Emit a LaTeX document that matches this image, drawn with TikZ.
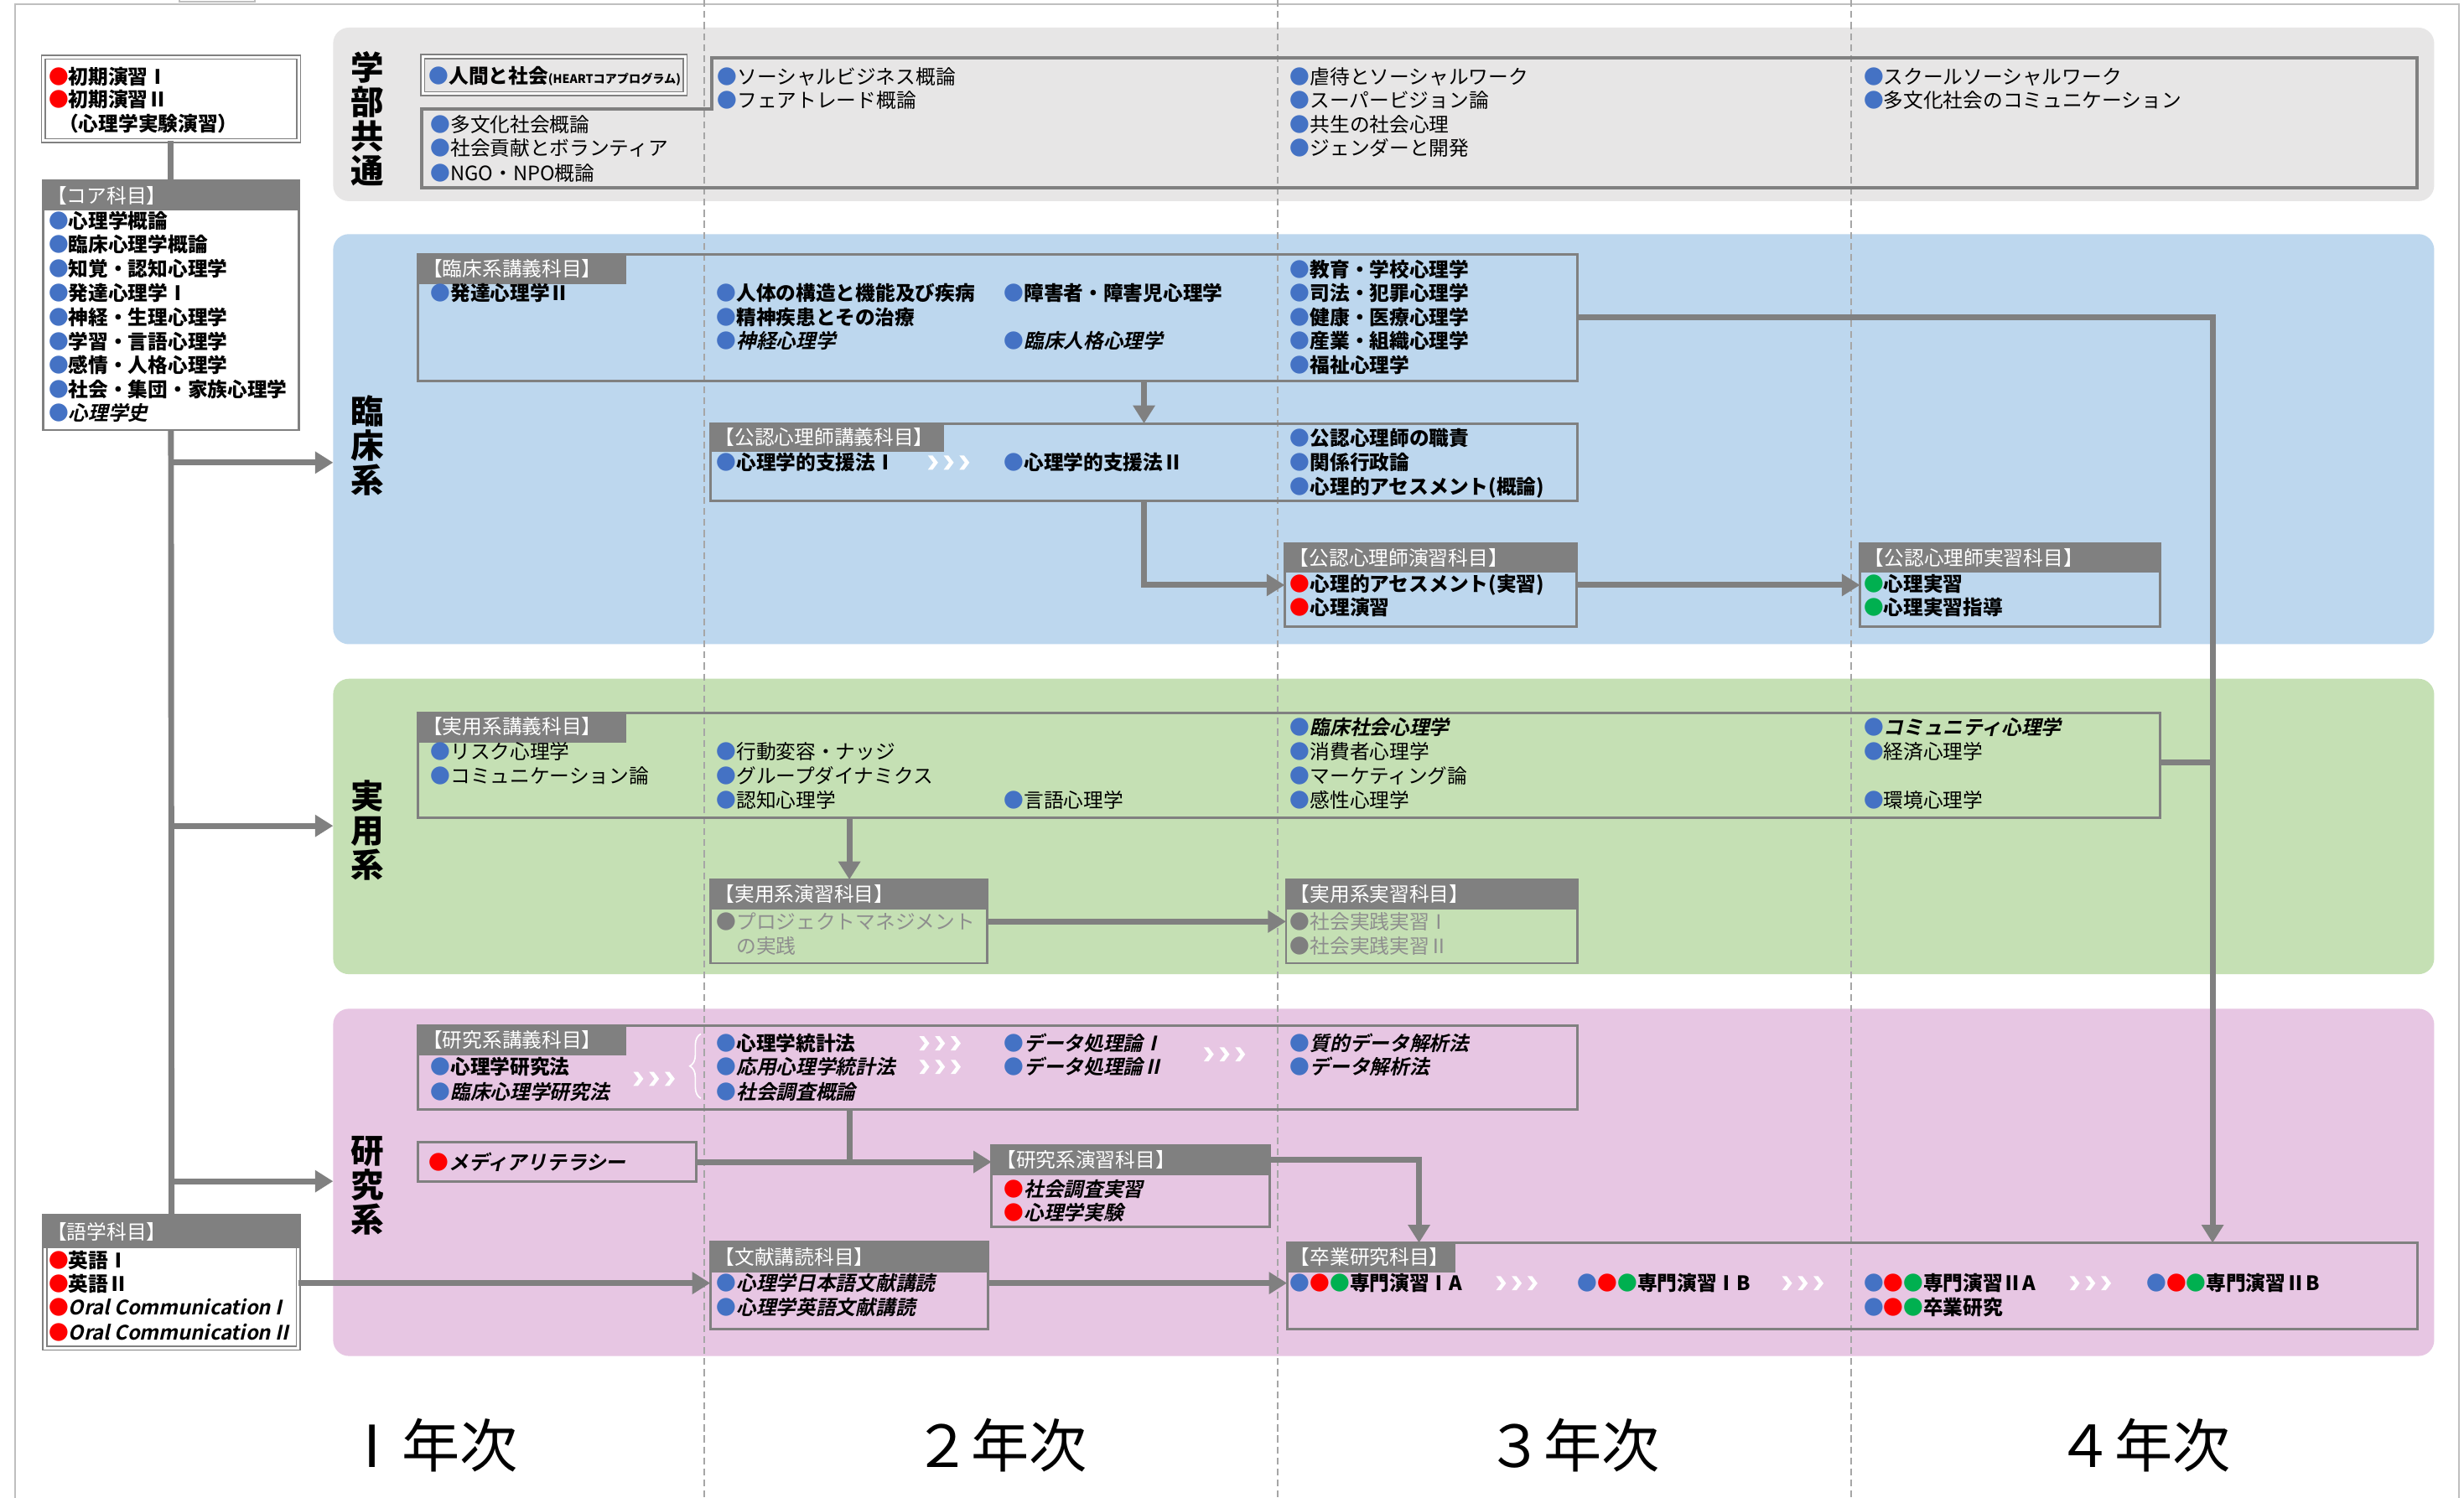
\documentclass[tikz,border=0pt]{standalone}
\usepackage{fontspec}
\setmainfont{Noto Sans CJK JP}[ItalicFont={Noto Sans CJK JP}, ItalicFeatures={FakeSlant=0.22}, BoldItalicFont={Noto Sans CJK JP Bold}, BoldItalicFeatures={FakeSlant=0.22}]
\usetikzlibrary{arrows.meta,fit,decorations.pathreplacing}
\definecolor{bandGray}{HTML}{E7E6E6}
\definecolor{bandBlue}{HTML}{BDD7EE}
\definecolor{bandGreen}{HTML}{C5E0B4}
\definecolor{bandPink}{HTML}{E7C6E3}
\definecolor{lineGray}{HTML}{808080}
\definecolor{cBlue}{HTML}{4472C4}
\definecolor{cRed}{HTML}{FF0000}
\definecolor{cGreen}{HTML}{00B050}
\definecolor{cGrayB}{HTML}{7F7F7F}
\definecolor{txtGray}{HTML}{8E8E8E}
\definecolor{frameGray}{HTML}{BFBFBF}
\definecolor{dashGray}{HTML}{A6A6A6}
\newcommand\bB{{\color{cBlue}●}}
\newcommand\bR{{\color{cRed}●}}
\newcommand\bG{{\color{cGreen}●}}
\newcommand\bK{{\color{cGrayB}●}}
\newcommand\bBRG{\bB\bR\bG}
\newcount\tcnt
\newcommand\tx[4][]{\global\advance\tcnt by 1\relax\node[txt,#1] (t\the\tcnt) at (#2,#3) {#4};}
\newcommand\chev[2]{\foreach \ci in {0,1,2} {\fill[white] ({#1+\ci*10},{#2-4.5}) -- ++(3,0) -- ++(3.4,4.5) -- ++(-3.4,4.5) -- ++(-3,0) -- ++(3.4,-4.5) -- cycle;}}
\tikzset{
 txt/.style={anchor=base west, inner sep=0pt, outer sep=0pt, yshift=-0.095cm, font=\fontsize{7.2}{8.6}\selectfont},
 hdr/.style={text=white},
 boxs/.style={draw=lineGray, line width=0.9pt, inner sep=0pt, outer sep=0pt},
 dbox/.style={draw=lineGray, line width=0.5pt, double=white, double distance=0.9pt, inner sep=0pt, outer sep=0pt, fill=white},
 hfill/.style={fill=lineGray, draw=lineGray, line width=0.9pt, inner sep=0pt, outer sep=0pt},
 conn/.style={draw=lineGray, line width=2.1pt},
 arr/.style={conn, -{Triangle[width=0.27cm,length=0.23cm]}},
 band/.style={rounded corners=0.2cm, inner sep=0pt, outer sep=0pt, draw=none},
 blabel/.style={font=\fontsize{12}{12.4}\selectfont\bfseries, align=center, inner sep=0pt},
 yearlab/.style={font=\fontsize{21}{24}\selectfont, inner sep=0pt},
}
\begin{document}
\begin{tikzpicture}[x=0.02cm, y=-0.02cm]
\useasboundingbox (0,0) rectangle (1568,953);
\fill[white] (0,0) rectangle (1568,953);
% frame
\draw[frameGray, line width=0.6pt] (9.8,960) -- (9.8,2.7) -- (1565,2.7) -- (1565,960);
\draw[frameGray, line width=0.6pt] (114,-5) rectangle (162,0.9);
% bands
\node[band, fill=bandGray, fit={(212,17.6) (1549,128)}] (bandCom) {};
\node[band, fill=bandBlue, fit={(212,149) (1549,410)}] (bandRin) {};
\node[band, fill=bandGreen, fit={(212,432) (1549,620)}] (bandJi) {};
\node[band, fill=bandPink, fit={(212,642) (1549,863)}] (bandKen) {};
% dashed year separators
\foreach \xx in {448,813,1178} \draw[dashGray, line width=0.5pt, dash pattern=on 2.5pt off 1.5pt] (\xx,0) -- (\xx,953);
% band labels
\node[blabel] (lbCom) at (233.7,75.5) {学\\部\\共\\通};
\node[blabel] (lbRin) at (233.7,283.5) {臨\\床\\系};
\node[blabel] (lbJi) at (233.7,528.6) {実\\用\\系};
\node[blabel] (lbKen) at (233.7,754.5) {研\\究\\系};
% year labels
\node[yearlab] (y1) at (274,920) {Ⅰ年次};
\node[yearlab] (y2) at (636.5,920) {２年次};
\node[yearlab] (y3) at (1001,920) {３年次};
\node[yearlab] (y4) at (1364,920) {４年次};
% left column boxes
\node[dbox, fit={(27.6,36.4) (190,89.6)}] (b1) {};
\node[boxs, fill=white, fit={(27.6,114.8) (190,273.7)}] (core) {};
\node[hfill, fit={(27.6,114.8) (190,133.2)}] (hcore) {};
\node[dbox, fit={(28.6,774) (189.8,858)}] (gogaku) {};
\node[hfill, fit={(28.6,774) (189.8,793.7)}] (hgogaku) {};
% common area
\node[dbox, fill=none, fit={(269,36) (436,59.6)}] (ningen) {};
\draw[lineGray, line width=1.2pt] (268.2,69.4) -- (452.7,69.4) -- (452.7,37) -- (1538,37) -- (1538,119.5) -- (268.2,119.5) -- cycle;
% clinical
\node[boxs, fit={(265.7,161.7) (1004,242.4)}] (klin) {};
\node[hfill, fit={(265.7,161.7) (397.6,180)}] (hklin) {};
\node[boxs, fit={(452,269.5) (1004,318.6)}] (kkou) {};
\node[hfill, fit={(452,269.5) (600,287)}] (hkkou) {};
\node[boxs, fit={(817.5,346) (1003.5,398.7)}] (kens) {};
\node[hfill, fit={(817.5,346) (1003.5,363.7)}] (hkens) {};
\node[boxs, fit={(1183.6,346) (1374.6,398.7)}] (kjis) {};
\node[hfill, fit={(1183.6,346) (1374.6,363.7)}] (hkjis) {};
% applied
\node[boxs, fit={(265.7,453.5) (1374.6,520.5)}] (jko) {};
\node[hfill, fit={(265.7,453.5) (397.6,471.7)}] (hjko) {};
\node[boxs, fit={(452,559.8) (628,613)}] (jen) {};
\node[hfill, fit={(452,559.8) (628,578)}] (hjen) {};
\node[boxs, fit={(818.4,559.8) (1004,613)}] (jjis) {};
\node[hfill, fit={(818.4,559.8) (1004,578)}] (hjjis) {};
% research
\node[boxs, fit={(265.7,653) (1004,706)}] (ken) {};
\node[hfill, fit={(265.7,653) (397.6,671)}] (hken) {};
\node[boxs, fit={(265.7,727) (443,752)}] (media) {};
\node[boxs, fit={(631,729) (808,781)}] (kenen) {};
\node[hfill, fit={(631,729) (808,747)}] (hkenen) {};
\node[boxs, fit={(452,790.5) (628.6,846)}] (bunken) {};
\node[hfill, fit={(452,790.5) (628.6,809)}] (hbunken) {};
\node[boxs, fit={(819,791) (1538.6,846)}] (sotsu) {};
\node[hfill, fit={(819,791) (925.6,809)}] (hsotsu) {};
% connectors
\draw[conn] (b1.south) -- (core.north);
\draw[conn] (core.south) -- (gogaku.north);
\coordinate (a1) at (108.8,294.4);
\coordinate (a2) at (108.8,525.6);
\coordinate (a3) at (108.8,751.8);
\draw[arr] (a1) -- (a1 -| bandRin.west);
\draw[arr] (a2) -- (a2 -| bandJi.west);
\draw[arr] (a3) -- (a3 -| bandKen.west);
\coordinate (c6) at (728,0);
\draw[arr] (c6 |- klin.south) -- (c6 |- kkou.north);
\draw[arr] (c6 |- kkou.south) |- (kens.west);
\draw[arr] (kens.east) -- (kjis.west);
\coordinate (c9) at (1408,202);
\draw[arr] (klin.east |- c9) -| (c9 |- sotsu.north);
\coordinate (c10) at (1408,485);
\draw[conn] (jko.east |- c10) -- (c10);
\coordinate (c11) at (540.5,0);
\draw[arr] (c11 |- jko.south) -- (c11 |- jen.north);
\coordinate (c12) at (0,586.5);
\draw[arr] (jen.east |- c12) -- (jjis.west |- c12);
\draw[conn] (c11 |- ken.south) -- (c11 |- media.east);
\draw[arr] (media.east) -- (kenen.west |- media.east);
\coordinate (c15) at (903,738);
\draw[arr] (kenen.east |- c15) -| (c15 |- sotsu.north);
\coordinate (c16) at (0,816.6);
\draw[arr] (gogaku.east |- c16) -- (bunken.west |- c16);
\draw[arr] (bunken.east |- c16) -- (sotsu.west |- c16);
% chevrons and brace
\chev{590.5}{294.4}
\chev{403}{686.6}
\chev{585}{664}
\chev{585}{679}
\chev{766}{671}
\chev{952}{816.7}
\chev{1134}{816.7}
\chev{1317}{816.7}
\draw[white, line width=0.5pt, decorate, decoration={brace, amplitude=4pt}] (446,699) -- (446,658);
% left column texts
\tx{31}{48.7}{\bR\textbf{初期演習Ⅰ}}
\tx{31}{63.4}{\bR\textbf{初期演習Ⅱ}}
\tx{37.5}{79}{\textbf{（心理学実験演習）}}
\tx[hdr]{30}{124.5}{【コア科目】}
\tx{31}{140.5}{\bB\textbf{心理学概論}}
\tx{31}{155.8}{\bB\textbf{臨床心理学概論}}
\tx{31}{171.2}{\bB\textbf{知覚・認知心理学}}
\tx{31}{186.5}{\bB\textbf{発達心理学Ⅰ}}
\tx{31}{202}{\bB\textbf{神経・生理心理学}}
\tx{31}{217.4}{\bB\textbf{学習・言語心理学}}
\tx{31}{232.6}{\bB\textbf{感情・人格心理学}}
\tx{31}{248}{\bB\textbf{社会・集団・家族心理学}}
\tx{31}{263}{\bB\textbf{\textit{心理学史}}}
\tx[hdr]{30}{784}{【語学科目】}
\tx{31}{802}{\bR\textbf{英語Ⅰ}}
\tx{31}{817}{\bR\textbf{英語Ⅱ}}
\tx{31}{832}{\bR\textbf{\textit{Oral Communication I}}}
\tx{31}{848}{\bR\textbf{\textit{Oral Communication II}}}
% common texts
\tx{273}{48.4}{\bB\textbf{人間と社会}{\fontsize{4.3}{5}\selectfont\textbf{(HEARTコアプログラム)}}}
\tx{274}{79.1}{\bB 多文化社会概論}
\tx{274}{94.3}{\bB 社会貢献とボランティア}
\tx{274}{110.3}{\bB NGO・NPO概論}
\tx{456.5}{48.9}{\bB ソーシャルビジネス概論}
\tx{456.5}{64}{\bB フェアトレード概論}
\tx{821}{48.9}{\bB 虐待とソーシャルワーク}
\tx{821}{64}{\bB スーパービジョン論}
\tx{821}{79.1}{\bB 共生の社会心理}
\tx{821}{94.3}{\bB ジェンダーと開発}
\tx{1186}{48.9}{\bB スクールソーシャルワーク}
\tx{1186}{64}{\bB 多文化社会のコミュニケーション}
% clinical texts
\tx[hdr]{269}{170.9}{【臨床系講義科目】}
\tx{274}{186.7}{\bB\textbf{発達心理学Ⅱ}}
\tx{456}{186.7}{\bB\textbf{人体の構造と機能及び疾病}}
\tx{456}{201.8}{\bB\textbf{精神疾患とその治療}}
\tx{456}{217}{\bB\textbf{\textit{神経心理学}}}
\tx{639}{186.7}{\bB\textbf{障害者・障害児心理学}}
\tx{639}{217}{\bB\textbf{\textit{臨床人格心理学}}}
\tx{821}{171.6}{\bB\textbf{教育・学校心理学}}
\tx{821}{186.7}{\bB\textbf{司法・犯罪心理学}}
\tx{821}{202}{\bB\textbf{健康・医療心理学}}
\tx{821}{217}{\bB\textbf{産業・組織心理学}}
\tx{821}{232.5}{\bB\textbf{福祉心理学}}
\tx[hdr]{455}{278.3}{【公認心理師講義科目】}
\tx{456}{294.4}{\bB\textbf{心理学的支援法Ⅰ}}
\tx{639}{294.4}{\bB\textbf{心理学的支援法Ⅱ}}
\tx{821}{279}{\bB\textbf{公認心理師の職責}}
\tx{821}{294.4}{\bB\textbf{関係行政論}}
\tx{821}{310}{\bB\textbf{心理的アセスメント(概論)}}
\tx[hdr]{820.5}{354.9}{【公認心理師演習科目】}
\tx{821}{371.4}{\bR\textbf{心理的アセスメント(実習)}}
\tx{821}{386.8}{\bR\textbf{心理演習}}
\tx[hdr]{1186.5}{354.9}{【公認心理師実習科目】}
\tx{1186}{371.4}{\bG\textbf{心理実習}}
\tx{1186}{386.8}{\bG\textbf{心理実習指導}}
% applied texts
\tx[hdr]{269}{462.6}{【実用系講義科目】}
\tx{274}{478.5}{\bB リスク心理学}
\tx{274}{494}{\bB コミュニケーション論}
\tx{456}{478.5}{\bB 行動変容・ナッジ}
\tx{456}{494}{\bB グループダイナミクス}
\tx{456}{509.5}{\bB 認知心理学}
\tx{639}{509.5}{\bB 言語心理学}
\tx{821}{463}{\bB\textbf{\textit{臨床社会心理学}}}
\tx{821}{478.5}{\bB 消費者心理学}
\tx{821}{494}{\bB マーケティング論}
\tx{821}{509.5}{\bB 感性心理学}
\tx{1186}{463}{\bB\textbf{\textit{コミュニティ心理学}}}
\tx{1186}{478.5}{\bB 経済心理学}
\tx{1186}{509.5}{\bB 環境心理学}
\tx[hdr]{455}{568.9}{【実用系演習科目】}
\tx[text=txtGray]{456}{586.5}{\bK プロジェクトマネジメント}
\tx[text=txtGray]{468.6}{602}{の実践}
\tx[hdr]{821}{568.9}{【実用系実習科目】}
\tx[text=txtGray]{821}{586.5}{\bK 社会実践実習Ⅰ}
\tx[text=txtGray]{821}{602}{\bK 社会実践実習Ⅱ}
% research texts
\tx[hdr]{269}{662}{【研究系講義科目】}
\tx{274}{679}{\bB\textbf{心理学研究法}}
\tx{274}{695}{\bB\textbf{\textit{臨床心理学研究法}}}
\tx{456}{664}{\bB\textbf{心理学統計法}}
\tx{456}{679}{\bB\textbf{\textit{応用心理学統計法}}}
\tx{456}{695}{\bB\textbf{\textit{社会調査概論}}}
\tx{639}{664}{\bB\textbf{\textit{データ処理論Ⅰ}}}
\tx{639}{679}{\bB\textbf{\textit{データ処理論Ⅱ}}}
\tx{821}{664}{\bB\textbf{\textit{質的データ解析法}}}
\tx{821}{679}{\bB\textbf{\textit{データ解析法}}}
\tx{273}{740}{\bR\textbf{\textit{メディアリテラシー}}}
\tx[hdr]{634}{738}{【研究系演習科目】}
\tx{639}{757}{\bR\textbf{\textit{社会調査実習}}}
\tx{639}{772}{\bR\textbf{\textit{心理学実験}}}
\tx[hdr]{455}{799.8}{【文献講読科目】}
\tx{456}{816.6}{\bB\textbf{\textit{心理学日本語文献講読}}}
\tx{456}{832}{\bB\textbf{\textit{心理学英語文献講読}}}
\tx[hdr]{821}{800}{【卒業研究科目】}
\tx{821}{816.7}{\bBRG\textbf{専門演習ⅠA}}
\tx{1004}{816.7}{\bBRG\textbf{専門演習ⅠB}}
\tx{1186}{816.7}{\bBRG\textbf{専門演習ⅡA}}
\tx{1366}{816.7}{\bBRG\textbf{専門演習ⅡB}}
\tx{1186}{832}{\bBRG\textbf{卒業研究}}
\end{tikzpicture}
\end{document}
